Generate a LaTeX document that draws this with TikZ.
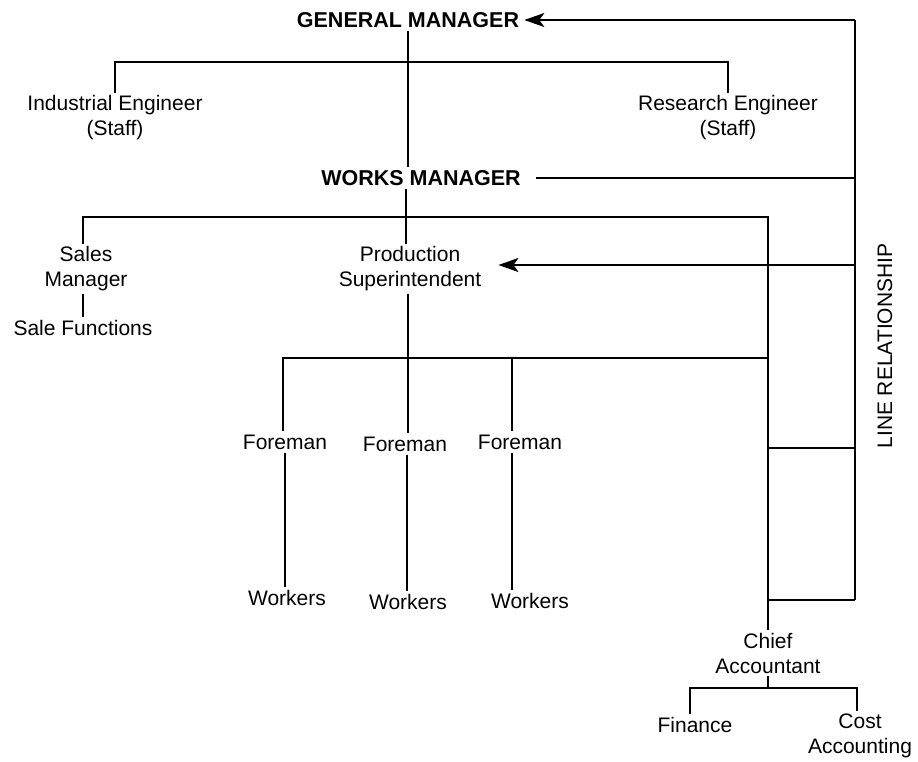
\documentclass[tikz,border=0pt]{standalone}
\usepackage{fontspec}
\setmainfont{Liberation Sans}
\usetikzlibrary{arrows.meta,calc}
\begin{document}
\begin{tikzpicture}[x=1pt,y=-1pt,
  every node/.style={inner sep=3pt,align=center,font=\fontsize{21}{25}\selectfont},
  boldlbl/.style={font=\fontsize{21.5}{25}\selectfont\bfseries},
  ln/.style={line width=2.2pt},
  arr/.style={line width=2.2pt,-{Stealth[length=20pt,width=14pt,inset=5pt]}}]
\useasboundingbox (0,0) rectangle (918,761);
% nodes
\node[boldlbl] (gm) at (408,20) {GENERAL MANAGER};
\node (ie) at (115,118) {Industrial Engineer\\(Staff)};
\node (re) at (728,118) {Research Engineer\\(Staff)};
\node[boldlbl] (wm) at (421,178) {WORKS MANAGER};
\node (sm) at (86,269) {Sales\\Manager};
\node (sf) at (83,328) {Sale Functions};
\node (ps) at (410,269) {Production\\Superintendent};
\node (f1) at (285,442) {Foreman};
\node (f2) at (405,444) {Foreman};
\node (f3) at (520,442) {Foreman};
\node (w1) at (287,598) {Workers};
\node (w2) at (408,602) {Workers};
\node (w3) at (530,601) {Workers};
\node (ca) at (768,653) {Chief\\Accountant};
\node (fi) at (695,725) {Finance};
\node (cc) at (860,736) {Cost\\Accounting};
\node[rotate=90] (lr) at (885,346) {LINE RELATIONSHIP};
% junction coordinates
\coordinate (rt) at (855,20);
\coordinate (rb) at (855,600);
\coordinate (stf) at (408,62);
\coordinate (spine) at (406,217);
\coordinate (hr) at (768,217);
\coordinate (fl) at (768,358);
\coordinate (r1) at (768,448);
\coordinate (r2) at (768,600);
\coordinate (ptarget) at ($(ps.east)+(14,-4)$);
\coordinate (cj) at (768,688);
% connectors
\draw[ln] (gm.south -| stf) -- (stf |- wm.north);
\draw[ln] (ie.north -| 115,0) -- (115,62) -- (728,62) -- (re.north -| 728,0);
\draw[arr] (rt) -- ($(gm.east)+(2,0)$);
\draw[ln] (rt) -- (rb);
\draw[ln] ($(wm.east)+(12,0)$) -- (wm.east -| rt);
\draw[ln] (wm.south -| spine) -- (spine |- ps.north);
\draw[ln] (sm.north -| 83,0) -- (83,217) -- (hr) -- (ca.north -| hr);
\draw[ln] (sm.south -| 83,0) -- (sf.north -| 83,0);
\draw[arr] (855,265) -- (ptarget);
\draw[ln] (ps.south -| 408,0) -- (f2.north -| 408,0);
\draw[ln] (f1.north -| 283,0) -- (283,358) -- (fl);
\draw[ln] (f3.north -| 512,0) -- (512,358);
\draw[ln] (r1) -- (r1 -| rt);
\draw[ln] (r2) -- (rb);
\draw[ln] (f1.south -| 285,0) -- (w1.north -| 285,0);
\draw[ln] (f2.south -| 407,0) -- (w2.north -| 407,0);
\draw[ln] (f3.south -| 512,0) -- (w3.north -| 512,0);
\draw[ln] (ca.south) -- (cj);
\draw[ln] (fi.north -| 690,0) -- (690,688) -- (857,688) -- (cc.north -| 857,0);
\end{tikzpicture}
\end{document}
